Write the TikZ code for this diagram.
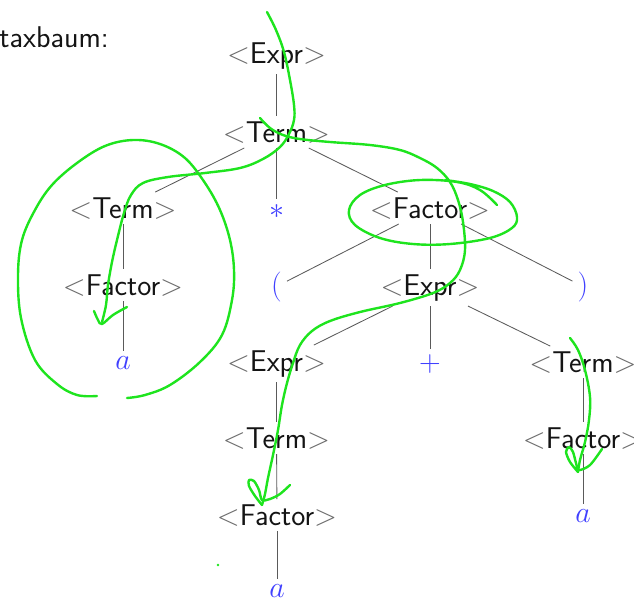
\RequirePackage{fix-cm}
\documentclass[tikz,border=0pt]{standalone}

\definecolor{symblue}{RGB}{64,64,255}
\definecolor{pen}{RGB}{30,228,30}
\definecolor{edgegray}{RGB}{90,90,90}

% nonterminal: <Name>
\newcommand{\nterm}[1]{\textcolor{black!58}{$<$}#1\textcolor{black!58}{$>$}}

\tikzset{
  ntnode/.style={anchor=base, inner sep=5pt, text=black!92,
                 font=\fontsize{30}{36}\selectfont\sffamily},
  tnode/.style={ntnode, text=symblue},
  branch/.style={draw=edgegray, line width=0.85pt},
  ink/.style={draw=pen, line width=2.4pt, line cap=round, line join=round},
}

\begin{document}
\begin{tikzpicture}[x=1pt, y=-1pt]
\useasboundingbox (0,0) rectangle (634,598);

% heading (partly outside the page on the left)
\node[anchor=base east, inner sep=0pt, text=black!92,
      font=\fontsize{30}{36}\selectfont\sffamily] (title) at (109,47) {Syntaxbaum:};

% parse tree nodes
\node[ntnode] (e0) at (276.5,63) {\nterm{Expr}};
\node[ntnode] (t1) at (276.5,142) {\nterm{Term}};
\node[ntnode] (t2) at (123,218) {\nterm{Term}};
\node[tnode] (star) at (276.5,218) {$*$};
\node[ntnode] (f2) at (430,218) {\nterm{Factor}};
\node[ntnode] (f3) at (123,295) {\nterm{Factor}};
\node[tnode] (lp) at (276.5,294) {$($};
\node[ntnode] (e3) at (430,295) {\nterm{Expr}};
\node[tnode] (rp) at (583,294) {$)$};
\node[tnode] (a4) at (123,369) {$a$};
\node[ntnode] (e4) at (276.5,371) {\nterm{Expr}};
\node[tnode] (plus) at (430,371) {$+$};
\node[ntnode] (t4) at (583,372) {\nterm{Term}};
\node[ntnode] (t5) at (276.5,448) {\nterm{Term}};
\node[ntnode] (f5) at (583,448) {\nterm{Factor}};
\node[ntnode] (f6) at (277,525) {\nterm{Factor}};
\node[tnode] (a5) at (583,522) {$a$};
\node[tnode] (a7) at (277,597) {$a$};

% tree branches
\draw[branch] (e0) -- (t1);
\draw[branch] (t1) -- (t2);
\draw[branch] (t1) -- (star);
\draw[branch] (t1) -- (f2);
\draw[branch] (t2) -- (f3);
\draw[branch] (f3) -- (a4);
\draw[branch] (f2) -- (lp);
\draw[branch] (f2) -- (e3);
\draw[branch] (f2) -- (rp);
\draw[branch] (e3) -- (e4);
\draw[branch] (e3) -- (plus);
\draw[branch] (e3) -- (t4);
\draw[branch] (e4) -- (t5);
\draw[branch] (t5) -- (f6);
\draw[branch] (f6) -- (a7);
\draw[branch] (t4) -- (f5);
\draw[branch] (f5) -- (a5);

% hand-drawn traversal: root down into the left subtree
\draw[ink] plot[smooth, tension=0.6] coordinates {
  (267,12) (276,30) (284,52) (290,80) (294,105) (294,120) (289,134)
  (280,147) (263,159) (240,168) (205,173) (168,177) (143,183) (131,195)
  (124,213) (117,240) (112,262) (108,285) (106,305) (102,322)};
\draw[ink] plot[smooth, tension=0.6] coordinates {
  (94,311) (98,320) (102,324) (113,315) (127,307)};

% loop round the left subtree
\draw[ink] plot[smooth, tension=0.6] coordinates {
  (97,396) (77,395) (57,384) (35,360) (21,318) (18,275) (22,240) (35,210)
  (52,185) (77,163) (105,146) (133,140) (160,144) (185,158) (205,183)
  (220,210) (230,240) (234,270) (232,300) (222,335) (200,362) (170,385)
  (145,395) (127,398)};

% traversal through <Factor> down to the lower left <Factor>
\draw[ink] plot[smooth, tension=0.6] coordinates {
  (260,118) (270,128) (283,135) (300,139) (330,142) (370,145) (400,150)
  (420,158) (437,168) (450,182) (458,200) (463,222) (465,250) (460,270)
  (450,283) (433,293) (400,303) (360,312) (330,321) (312,331) (300,345)
  (293,363) (287,383) (282,405) (278,430) (273,455) (268,478) (265,494)
  (262,505)};
\draw[ink] plot[smooth, tension=0.5] coordinates {
  (262,505) (255,496) (249,486) (249,480) (254,481) (259,490) (262,500)
  (270,499) (280,494) (290,485)};

% ellipse round the <Factor> node
\draw[ink] plot[smooth, tension=0.6] coordinates {
  (497,205) (480,190) (457,182) (420,180) (385,185) (360,195) (349,210)
  (355,225) (380,238) (413,244) (450,244) (490,238) (512,228) (517,217)
  (510,202) (493,191) (470,184) (445,180)};

% right-hand traversal down to <Factor>
\draw[ink] plot[smooth, tension=0.6] coordinates {
  (570,338) (578,350) (585,370) (590,397) (589,420) (585,442) (580,460)
  (578,472)};
\draw[ink] plot[smooth, tension=0.5] coordinates {
  (578,472) (570,462) (566,452) (569,447) (573,452) (576,463) (579,470)
  (590,465) (602,449)};

% stray pen dot
\fill[pen] (218,565) circle (1.4);
\end{tikzpicture}
\end{document}
